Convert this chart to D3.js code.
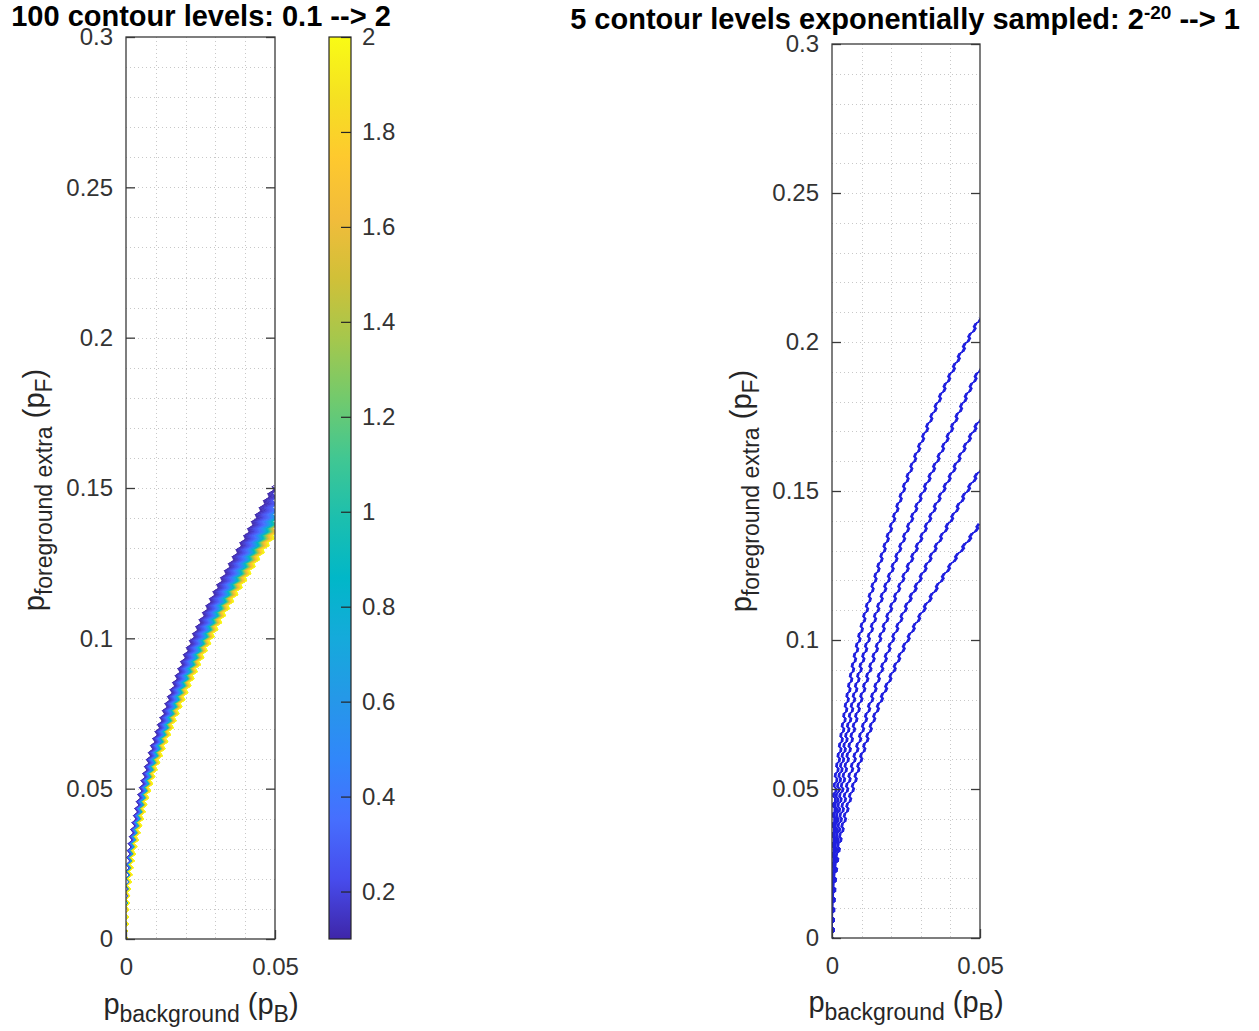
<!DOCTYPE html>
<html><head><meta charset="utf-8">
<script src="https://cdn.jsdelivr.net/npm/d3@7"></script>
<style>
body{margin:0;background:#fff;}
svg{display:block;font-family:"Liberation Sans",Arial,Helvetica,sans-serif;}
</style></head><body>
<svg id="chart" width="1259" height="1031"></svg>
<script>
// ---------------- DATA ----------------
const pBackground = [0, 0.001, 0.0025, 0.005, 0.0075, 0.01, 0.015, 0.02, 0.025, 0.03, 0.035, 0.04, 0.045, 0.05];

// Left panel: filled contour band, edge at level 0.1 (top) and level 2 (bottom)
const bandEdgeLevel01 = [0, 0.029, 0.038, 0.050, 0.060, 0.068, 0.082, 0.095, 0.106, 0.116, 0.125, 0.134, 0.143, 0.151];
const bandEdgeLevel2  = [0, 0.016, 0.027, 0.038, 0.048, 0.056, 0.069, 0.081, 0.092, 0.102, 0.111, 0.119, 0.127, 0.134];
// relative depth across the band at which each contour level sits (0 = level 0.1 edge, 1 = level 2 edge)
const bandLevels = [0.1, 0.2, 0.3, 0.4, 0.6, 0.8, 1.0, 1.2, 1.4, 1.6, 1.8, 2.0];
const bandDepth  = [0, 0.22, 0.37, 0.47, 0.58, 0.66, 0.72, 0.77, 0.82, 0.87, 0.93, 1.0];
const levelCount = 100;
const levelMin = 0.1, levelMax = 2;

// Right panel: 5 contour lines (levels 2^-20 ... 1)
const lineLevelNames = ["2^-20", "2^-15", "2^-10", "2^-5", "1"];
const contourA = [0, 0.050, 0.062, 0.079, 0.093, 0.104, 0.122, 0.138, 0.153, 0.166, 0.178, 0.189, 0.199, 0.208];
const contourB = [0, 0.040, 0.053, 0.068, 0.081, 0.092, 0.109, 0.123, 0.136, 0.148, 0.159, 0.170, 0.181, 0.191];
const contourC = [0, 0.033, 0.045, 0.059, 0.071, 0.081, 0.097, 0.111, 0.123, 0.134, 0.145, 0.155, 0.165, 0.174];
const contourD = [0, 0.027, 0.038, 0.050, 0.060, 0.069, 0.085, 0.099, 0.111, 0.121, 0.131, 0.140, 0.149, 0.157];
const contourE = [0, 0.021, 0.032, 0.043, 0.052, 0.061, 0.076, 0.088, 0.099, 0.1085, 0.117, 0.125, 0.132, 0.139];

// axes / ticks
const xTicks = [0, 0.05];
const yTicks = [0, 0.05, 0.1, 0.15, 0.2, 0.25, 0.3];
const cbTicks = [0.2, 0.4, 0.6, 0.8, 1, 1.2, 1.4, 1.6, 1.8, 2];
const xDomain = [0, 0.05], yDomain = [0, 0.3];

// parula colormap stops
const parula = ["#3e26a8","#474ced","#466ffe","#3187fa","#2598e8","#15aadb","#01b7c8","#1cbfae",
                "#41c792","#73ca6c","#a6c74c","#d1c038","#f2bc3b","#fec92e","#f5e122","#f9fb15"];

// ---------------- DRAWING ----------------
const W = 1259, H = 1031;
const svg = d3.select("#chart");
svg.append("rect").attr("width",W).attr("height",H).attr("fill","#fff");
const defs = svg.append("defs");

const TICK_COLOR = "#333";
const BOX_COLOR = "#3a3a3a";
const FONT = '"Liberation Sans",Arial,Helvetica,sans-serif';

// jagged (grid-stepped) contour rendering style: small periodic horizontal wiggle
function jagFilter(id, period, scale){
  const s = `<svg xmlns="http://www.w3.org/2000/svg" width="${W}" height="${H}"><defs>` +
    `<linearGradient id="g" gradientUnits="userSpaceOnUse" x1="0" y1="0" x2="0" y2="${period}" spreadMethod="repeat">` +
    `<stop offset="0" stop-color="rgb(0,128,0)"/><stop offset="0.5" stop-color="rgb(255,128,0)"/><stop offset="1" stop-color="rgb(0,128,0)"/>` +
    `</linearGradient></defs><rect width="${W}" height="${H}" fill="url(#g)"/></svg>`;
  const href = "data:image/svg+xml;charset=utf-8," + encodeURIComponent(s);
  const f = defs.append("filter").attr("id", id)
    .attr("filterUnits","userSpaceOnUse").attr("primitiveUnits","userSpaceOnUse")
    .attr("x",0).attr("y",0).attr("width",W).attr("height",H)
    .attr("color-interpolation-filters","sRGB");
  f.append("feImage").attr("href", href).attr("xlink:href", href)
    .attr("x",0).attr("y",0).attr("width",W).attr("height",H)
    .attr("preserveAspectRatio","none").attr("result","ramp");
  f.append("feDisplacementMap").attr("in","SourceGraphic").attr("in2","ramp")
    .attr("scale", scale).attr("xChannelSelector","R").attr("yChannelSelector","G");
}
jagFilter("jagL", 7, 4);
jagFilter("jagR", 10, 3);

function panel(box){
  const x = d3.scaleLinear(xDomain, [box.x0, box.x1]);
  const y = d3.scaleLinear(yDomain, [box.y1, box.y0]);
  const g = svg.append("g");
  const gx = d3.range(1, 5).map(i => i/100);
  const gy = d3.range(1, 30).map(i => i/100);
  const grid = g.append("g").attr("stroke","#c8c8c8").attr("stroke-width",1).attr("stroke-dasharray","1,3");
  grid.selectAll("line.gx").data(gx).join("line")
    .attr("x1", d => Math.round(x(d))+0.5).attr("x2", d => Math.round(x(d))+0.5)
    .attr("y1", box.y0).attr("y2", box.y1);
  grid.selectAll("line.gy").data(gy).join("line")
    .attr("y1", d => Math.round(y(d))+0.5).attr("y2", d => Math.round(y(d))+0.5)
    .attr("x1", box.x0).attr("x2", box.x1);
  return {x, y, g};
}

function axesOn(p, box){
  const fmt = d3.format("~g");
  const styleAxis = sel => {
    sel.select(".domain").remove();
    sel.selectAll("line").attr("stroke", BOX_COLOR).attr("stroke-width",1.3);
    sel.selectAll("text").attr("fill", TICK_COLOR).attr("font-size", 24).attr("font-family", FONT);
  };
  svg.append("g").attr("transform",`translate(${box.x0},0)`)
    .call(d3.axisLeft(p.y).tickValues(yTicks).tickFormat(fmt).tickSizeInner(-9).tickSizeOuter(0).tickPadding(13))
    .call(styleAxis);
  svg.append("g").attr("transform",`translate(${box.x1},0)`)
    .call(d3.axisRight(p.y).tickValues(yTicks).tickFormat("").tickSizeInner(-9).tickSizeOuter(0))
    .call(styleAxis);
  svg.append("g").attr("transform",`translate(0,${box.y1})`)
    .call(d3.axisBottom(p.x).tickValues(xTicks).tickFormat(fmt).tickSizeInner(-9).tickSizeOuter(0).tickPadding(19))
    .call(styleAxis);
  svg.append("rect").attr("x",box.x0).attr("y",box.y0)
    .attr("width",box.x1-box.x0).attr("height",box.y1-box.y0)
    .attr("fill","none").attr("stroke",BOX_COLOR).attr("stroke-width",1.3);
}

function subLabel(sel, main, sub, main2, sub2, close){
  sel.attr("font-size",29).attr("fill","#262626");
  sel.append("tspan").text(main);
  sel.append("tspan").attr("font-size",23).attr("dy",8).text(sub);
  sel.append("tspan").attr("dy",-8).text(" (" + main2);
  sel.append("tspan").attr("font-size",23).attr("dy",8).text(sub2);
  sel.append("tspan").attr("dy",-8).text(close);
}

// ===== Left panel =====
const boxL = {x0:126, x1:275, y0:37, y1:939};
const L = panel(boxL);

const colorScale = d3.scaleLinear()
  .domain(parula.map((c,i) => levelMin + (levelMax-levelMin)*i/(parula.length-1)))
  .range(parula).interpolate(d3.interpolateRgb);
const depthScale = d3.scaleLinear(bandLevels, bandDepth);
const levels = d3.range(levelCount).map(i => levelMin + (levelMax-levelMin)*i/(levelCount-1));

const pts = pBackground.map((b,i) => ({b, top: bandEdgeLevel01[i], bot: bandEdgeLevel2[i]}));
const levelY = (d, lv) => d.top + depthScale(lv)*(d.bot - d.top);

const clipL = defs.append("clipPath").attr("id","clipL");
clipL.append("rect").attr("x",boxL.x0).attr("y",boxL.y0).attr("width",boxL.x1-boxL.x0).attr("height",boxL.y1-boxL.y0);

const bandG = L.g.append("g").attr("clip-path","url(#clipL)").append("g").attr("filter","url(#jagL)");
for (let k = 0; k < levels.length-1; k++){
  const a = levels[k], c = levels[k+1];
  const area = d3.area()
    .x(d => L.x(d.b))
    .y0(d => L.y(levelY(d, c)))
    .y1(d => L.y(levelY(d, a)))
    .curve(d3.curveCatmullRom.alpha(0.5));
  const col = colorScale(a);
  bandG.append("path").attr("d", area(pts)).attr("fill", col)
    .attr("stroke", col).attr("stroke-width", 0.6);
}
axesOn(L, boxL);

// Colorbar
const cb = {x0:329, x1:351, y0:37, y1:939};
const cScale = d3.scaleLinear([levelMin, levelMax], [cb.y1, cb.y0]);
const grad = defs.append("linearGradient").attr("id","parulaGrad")
  .attr("x1",0).attr("y1",1).attr("x2",0).attr("y2",0);
grad.selectAll("stop").data(parula).join("stop")
  .attr("offset",(d,i)=> i/(parula.length-1)).attr("stop-color", d=>d);
svg.append("rect").attr("x",cb.x0).attr("y",cb.y0).attr("width",cb.x1-cb.x0).attr("height",cb.y1-cb.y0)
  .attr("fill","url(#parulaGrad)");
svg.append("g").attr("transform",`translate(${cb.x1},0)`)
  .call(d3.axisRight(cScale).tickValues(cbTicks).tickFormat(d3.format("~g")).tickSizeInner(-10).tickSizeOuter(0).tickPadding(11))
  .call(sel => {
    sel.select(".domain").remove();
    sel.selectAll("line").attr("stroke","#262626").attr("stroke-width",1.2);
    sel.selectAll("text").attr("fill",TICK_COLOR).attr("font-size",24).attr("font-family",FONT);
  });
svg.append("rect").attr("x",cb.x0).attr("y",cb.y0).attr("width",cb.x1-cb.x0).attr("height",cb.y1-cb.y0)
  .attr("fill","none").attr("stroke","#262626").attr("stroke-width",1.2);

// titles & labels
svg.append("text").attr("x",201).attr("y",26).attr("text-anchor","middle")
  .attr("font-size",29).attr("font-weight","bold").attr("fill","#000")
  .text("100 contour levels: 0.1 --> 2");
svg.append("text").attr("transform","translate(44,490) rotate(-90)").attr("text-anchor","middle")
  .call(subLabel, "p", "foreground extra", "p", "F", ")");
svg.append("text").attr("x",201).attr("y",1014).attr("text-anchor","middle")
  .call(subLabel, "p", "background", "p", "B", ")");

// ===== Right panel =====
const boxR = {x0:832, x1:980, y0:44, y1:938};
const R = panel(boxR);
const clipR = defs.append("clipPath").attr("id","clipR");
clipR.append("rect").attr("x",boxR.x0).attr("y",boxR.y0).attr("width",boxR.x1-boxR.x0).attr("height",boxR.y1-boxR.y0);
const lineGen = d3.line().x(d => R.x(d[0])).y(d => R.y(d[1])).curve(d3.curveCatmullRom.alpha(0.5));
const contourSeries = [contourA, contourB, contourC, contourD, contourE];
R.g.append("g").attr("clip-path","url(#clipR)").append("g").attr("filter","url(#jagR)")
  .selectAll("path").data(contourSeries).join("path")
  .attr("d", s => lineGen(pBackground.map((b,i) => [b, s[i]])))
  .attr("fill","none").attr("stroke","#2020e0").attr("stroke-width",2.8)
  .attr("stroke-linejoin","round");
axesOn(R, boxR);

const tR = svg.append("text").attr("x",905).attr("y",29).attr("text-anchor","middle")
  .attr("font-size",29).attr("font-weight","bold").attr("fill","#000");
tR.append("tspan").text("5 contour levels exponentially sampled: 2");
tR.append("tspan").attr("font-size",19).attr("dy",-10).text("-20");
tR.append("tspan").attr("dy",10).text(" --> 1");
svg.append("text").attr("transform","translate(751,491) rotate(-90)").attr("text-anchor","middle")
  .call(subLabel, "p", "foreground extra", "p", "F", ")");
svg.append("text").attr("x",906).attr("y",1012).attr("text-anchor","middle")
  .call(subLabel, "p", "background", "p", "B", ")");
</script>
</body></html>
